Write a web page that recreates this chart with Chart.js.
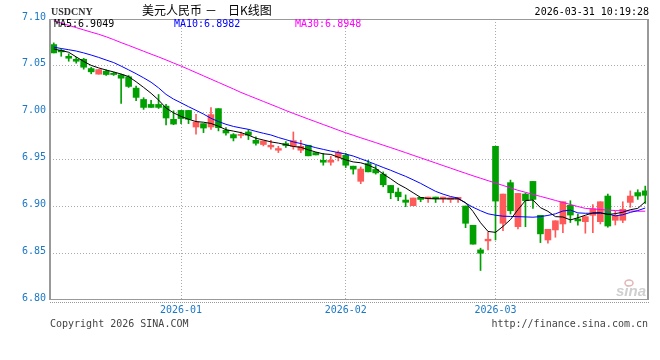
<!DOCTYPE html>
<html>
<head>
<meta charset="utf-8">
<script src="https://cdn.jsdelivr.net/npm/chart.js@4/dist/chart.umd.min.js"></script>
<style>
html,body{margin:0;padding:0;background:#fff}
#wrap{width:660px;height:360px;position:relative}
</style>
</head>
<body>
<div id="wrap"><canvas id="c" width="660" height="360"></canvas></div>
<script>
// ---- data (USDCNY daily candles) ----
const opens = [
7.0727, 7.0666, 7.0602, 7.0570, 7.0570, 7.0471, 7.0411, 7.0443, 7.0421, 7.0404,
7.0383, 7.0262, 7.0141, 7.0088, 7.0088, 7.0070, 6.9929, 7.0024, 7.0024, 6.9847,
6.9883, 6.9847, 7.0043, 6.9812, 6.9766, 6.9757, 6.9794, 6.9705, 6.9660, 6.9634,
6.9599, 6.9670, 6.9641, 6.9599, 6.9652, 6.9574, 6.9492, 6.9471, 6.9521, 6.9545,
6.9429, 6.9267, 6.9457, 6.9394, 6.9344, 6.9223, 6.9152, 6.9067, 6.9007, 6.9096,
6.9080, 6.9099, 6.9080, 6.9074, 6.9077, 6.9003, 6.8798, 6.8535, 6.8631, 6.9641,
6.8819, 6.9253, 6.8783, 6.9131, 6.9266, 6.8904, 6.8641, 6.8748, 6.8812, 6.9011,
6.8865, 6.8836, 6.8904, 6.8836, 6.9110, 6.8851, 6.8851, 6.9042, 6.9147, 6.9165];
const highs = [
7.0745, 7.0680, 7.0628, 7.0591, 7.0580, 7.0485, 7.0460, 7.0457, 7.0432, 7.0411,
7.0397, 7.0283, 7.0160, 7.0131, 7.0194, 7.0088, 7.0020, 7.0024, 7.0024, 6.9982,
6.9883, 7.0053, 7.0043, 6.9840, 6.9777, 6.9794, 6.9820, 6.9741, 6.9698, 6.9705,
6.9641, 6.9691, 6.9794, 6.9705, 6.9652, 6.9574, 6.9566, 6.9534, 6.9592, 6.9566,
6.9429, 6.9420, 6.9492, 6.9436, 6.9368, 6.9223, 6.9195, 6.9122, 6.9089, 6.9096,
6.9099, 6.9099, 6.9099, 6.9092, 6.9096, 6.9003, 6.8798, 6.8553, 6.8727, 6.9641,
6.9131, 6.9280, 6.9138, 6.9142, 6.9266, 6.8904, 6.8755, 6.8846, 6.9049, 6.9060,
6.8918, 6.8890, 6.9018, 6.9049, 6.9131, 6.8947, 6.9049, 6.9165, 6.9177, 6.9216];
const lows = [
7.0638, 7.0602, 7.0549, 7.0528, 7.0464, 7.0415, 7.0411, 7.0397, 7.0397, 7.0099,
7.0269, 7.0127, 7.0035, 7.0056, 7.0045, 6.9869, 6.9872, 6.9883, 6.9883, 6.9770,
6.9787, 6.9820, 6.9805, 6.9759, 6.9698, 6.9730, 6.9713, 6.9652, 6.9645, 6.9610,
6.9574, 6.9628, 6.9610, 6.9574, 6.9539, 6.9549, 6.9439, 6.9439, 6.9485, 6.9414,
6.9344, 6.9242, 6.9368, 6.9344, 6.9209, 6.9081, 6.9061, 6.8996, 6.9007, 6.9049,
6.9041, 6.9041, 6.9041, 6.9041, 6.9041, 6.8772, 6.8596, 6.8315, 6.8535, 6.8641,
6.8740, 6.8918, 6.8760, 6.8783, 6.8979, 6.8613, 6.8606, 6.8670, 6.8719, 6.8827,
6.8798, 6.8713, 6.8719, 6.8812, 6.8777, 6.8801, 6.8826, 6.8989, 6.9074, 6.9030];
const closes = [
7.0638, 7.0649, 7.0581, 7.0549, 7.0485, 7.0436, 7.0460, 7.0407, 7.0407, 7.0368,
7.0280, 7.0163, 7.0056, 7.0056, 7.0056, 6.9943, 6.9878, 6.9937, 6.9929, 6.9900,
6.9836, 6.9979, 6.9840, 6.9783, 6.9730, 6.9764, 6.9759, 6.9673, 6.9698, 6.9652,
6.9617, 6.9649, 6.9701, 6.9641, 6.9539, 6.9549, 6.9471, 6.9492, 6.9574, 6.9439,
6.9397, 6.9398, 6.9368, 6.9357, 6.9230, 6.9145, 6.9102, 6.9043, 6.9089, 6.9074,
6.9099, 6.9080, 6.9099, 6.9092, 6.9096, 6.8819, 6.8596, 6.8500, 6.8649, 6.9056,
6.9131, 6.8953, 6.9138, 6.9060, 6.9074, 6.8706, 6.8755, 6.8846, 6.9049, 6.8907,
6.8844, 6.8890, 6.8975, 6.9049, 6.8790, 6.8904, 6.8968, 6.9110, 6.9110, 6.9118];
const ma5 = [
7.0680, 7.0663, 7.0645, 7.0595, 7.0547, 7.0505, 7.0478, 7.0455, 7.0435, 7.0412,
7.0385, 7.0330, 7.0270, 7.0207, 7.0135, 7.0050, 6.9998, 6.9960, 6.9930, 6.9905,
6.9898, 6.9885, 6.9855, 6.9818, 6.9803, 6.9787, 6.9760, 6.9727, 6.9708, 6.9688,
6.9675, 6.9658, 6.9639, 6.9630, 6.9603, 6.9580, 6.9560, 6.9554, 6.9525, 6.9496,
6.9474, 6.9465, 6.9440, 6.9405, 6.9345, 6.9294, 6.9238, 6.9195, 6.9145, 6.9095,
6.9083, 6.9080, 6.9080, 6.9080, 6.9080, 6.9040, 6.8945, 6.8825, 6.8732, 6.8722,
6.8786, 6.8858, 6.8965, 6.9062, 6.9068, 6.8986, 6.8947, 6.8890, 6.8886, 6.8855,
6.8878, 6.8905, 6.8930, 6.8933, 6.8912, 6.8922, 6.8937, 6.8964, 6.8978, 6.9049];
const ma10 = [
7.0700, 7.0685, 7.0672, 7.0658, 7.0638, 7.0615, 7.0590, 7.0562, 7.0535, 7.0497,
7.0457, 7.0416, 7.0372, 7.0325, 7.0265, 7.0195, 7.0145, 7.0105, 7.0064, 7.0025,
6.9985, 6.9940, 6.9905, 6.9876, 6.9853, 6.9837, 6.9822, 6.9800, 6.9780, 6.9762,
6.9735, 6.9712, 6.9688, 6.9670, 6.9648, 6.9626, 6.9608, 6.9590, 6.9574, 6.9558,
6.9537, 6.9508, 6.9478, 6.9447, 6.9415, 6.9385, 6.9352, 6.9320, 6.9283, 6.9245,
6.9202, 6.9160, 6.9130, 6.9105, 6.9088, 6.9035, 6.8990, 6.8953, 6.8920, 6.8905,
6.8895, 6.8892, 6.8890, 6.8887, 6.8884, 6.8890, 6.8903, 6.8920, 6.8950, 6.8960,
6.8930, 6.8926, 6.8926, 6.8926, 6.8920, 6.8898, 6.8910, 6.8935, 6.8955, 6.8982];
const ma30 = [
7.0980, 7.0956, 7.0932, 7.0908, 7.0884, 7.0860, 7.0837, 7.0810, 7.0780, 7.0748,
7.0718, 7.0687, 7.0656, 7.0625, 7.0595, 7.0563, 7.0530, 7.0498, 7.0463, 7.0428,
7.0393, 7.0358, 7.0323, 7.0288, 7.0253, 7.0216, 7.0184, 7.0152, 7.0120, 7.0088,
7.0056, 7.0023, 6.9992, 6.9962, 6.9932, 6.9903, 6.9873, 6.9844, 6.9814, 6.9785,
6.9759, 6.9732, 6.9706, 6.9680, 6.9653, 6.9627, 6.9600, 6.9573, 6.9545, 6.9518,
6.9490, 6.9463, 6.9435, 6.9408, 6.9380, 6.9353, 6.9326, 6.9300, 6.9274, 6.9249,
6.9223, 6.9197, 6.9171, 6.9150, 6.9128, 6.9106, 6.9085, 6.9063, 6.9041, 6.9020,
6.8998, 6.8978, 6.8972, 6.8966, 6.8960, 6.8955, 6.8953, 6.8950, 6.8948, 6.8948];
const categories = closes.map((_, i) => i);            // one slot per trading day
const monthTicks = {17: '2026-01', 39: '2026-02', 59: '2026-03'};
const yTicks = [6.80, 6.85, 6.90, 6.95, 7.00, 7.05, 7.10];
const maLabels = ['MA5:6.9049', 'MA10:6.8982', 'MA30:6.8948'];
const titleText = ['美元人民币', '－', '日K线图'];
const symbolText = 'USDCNY';
const stampText = '2026-03-31 10:19:28';
const footLeft = 'Copyright 2026 SINA.COM';
const footRight = 'http://finance.sina.com.cn';

const UP = '#ff5a5a', DOWN = '#00a000';
const candleColor = ctx => closes[ctx.dataIndex] >= opens[ctx.dataIndex] ? UP : DOWN;
const wicks = lows.map((l, i) => [l, highs[i]]);
const bodies = opens.map((o, i) => [Math.min(o, closes[i]), Math.max(o, closes[i])]);
const BLUE_TXT = '#1b78c6';
const MONO = '10px "DejaVu Sans Mono", monospace';

const decor = {
  id: 'decor',
  afterDatasetsDraw(chart) {
    const {ctx, chartArea: a} = chart;
    const L = Math.round(a.left), R = Math.round(a.right), T = Math.round(a.top), B = Math.round(a.bottom);
    ctx.save();
    ctx.strokeStyle = '#999';
    ctx.lineWidth = 1;
    ctx.beginPath();
    ctx.moveTo(L, T + 0.5); ctx.lineTo(R, T + 0.5);
    ctx.moveTo(L, B - 0.5); ctx.lineTo(R, B - 0.5);
    ctx.stroke();
    ctx.lineWidth = 2;
    ctx.beginPath();
    ctx.moveTo(L, T); ctx.lineTo(L, B);
    ctx.moveTo(R - 1, T); ctx.lineTo(R - 1, B);
    ctx.stroke();
    ctx.lineWidth = 1;
    ctx.setLineDash([1, 1]);
    ctx.beginPath();
    ctx.moveTo(L, B + 2.5); ctx.lineTo(R, B + 2.5);
    ctx.stroke();
    ctx.setLineDash([]);
    // MA legend inside plot
    ctx.font = MONO;
    ctx.textBaseline = 'middle';
    ctx.textAlign = 'left';
    const maCols = ['#000000', '#0000ff', '#ff00ff'];
    const maX = [L + 4, L + 124, L + 245];
    maLabels.forEach((t, i) => { ctx.fillStyle = maCols[i]; ctx.fillText(t, maX[i], T + 5); });
    // watermark
    ctx.fillStyle = '#cfcfcf';
    ctx.font = 'italic bold 15px "Liberation Sans", sans-serif';
    ctx.textAlign = 'right';
    ctx.fillText('sina', R - 3, B - 8);
    ctx.strokeStyle = '#e3b5b5';
    ctx.lineWidth = 1.5;
    ctx.beginPath();
    ctx.ellipse(R - 20, B - 17, 4, 3, 0, 0, Math.PI * 2);
    ctx.stroke();
    ctx.restore();
  },
  afterDraw(chart) {
    const {ctx, chartArea: a} = chart;
    const L = Math.round(a.left), R = Math.round(a.right), B = Math.round(a.bottom);
    ctx.save();
    ctx.textBaseline = 'middle';
    ctx.fillStyle = '#333';
    ctx.font = 'bold 10px "Liberation Serif", serif';
    ctx.textAlign = 'left';
    ctx.fillText(symbolText, L + 1, 12);
    ctx.fillStyle = '#000';
    ctx.font = '12px "Noto Sans CJK SC", sans-serif';
    ctx.fillText(titleText[0], 142, 10);
    ctx.fillText(titleText[1], 205, 10);
    ctx.fillText(titleText[2], 228, 10);
    ctx.font = MONO;
    ctx.textAlign = 'right';
    ctx.fillText(stampText, R, 12);
    ctx.fillStyle = '#444';
    ctx.textAlign = 'left';
    ctx.fillText(footLeft, L, B + 24);
    ctx.textAlign = 'right';
    ctx.fillText(footRight, R - 1, B + 24);
    ctx.restore();
  }
};

new Chart(document.getElementById('c'), {
  type: 'bar',
  data: {
    labels: categories,
    datasets: [
      {type: 'line', label: 'MA5', data: ma5, borderColor: '#000', borderWidth: 1, pointRadius: 0, tension: 0, order: 0},
      {type: 'line', label: 'MA10', data: ma10, borderColor: '#0000ff', borderWidth: 1, pointRadius: 0, tension: 0, order: 0},
      {type: 'line', label: 'MA30', data: ma30, borderColor: '#ff00ff', borderWidth: 1, pointRadius: 0, tension: 0, order: 0},
      {label: 'wick', data: wicks, backgroundColor: candleColor, barThickness: 1, grouped: false, borderWidth: 0, order: 2},
      {label: 'body', data: bodies, backgroundColor: candleColor, barThickness: 6, grouped: false, borderWidth: 0, minBarLength: 1, order: 1}
    ]
  },
  options: {
    responsive: false,
    devicePixelRatio: 1,
    animation: false,
    events: [],
    layout: {padding: {left: 0, right: 11, top: 19, bottom: 40}},
    plugins: {legend: {display: false}, tooltip: {enabled: false}},
    scales: {
      x: {
        type: 'category',
        offset: true,
        grid: {
          offset: false,
          drawTicks: false,
          color: ctx => (ctx.index in monthTicks) ? '#aaaaaa' : 'rgba(0,0,0,0)'
        },
        border: {display: false, dash: [1, 2]},
        ticks: {
          autoSkip: false, maxRotation: 0, padding: 4,
          color: BLUE_TXT, font: {family: '"DejaVu Sans Mono", monospace', size: 10},
          callback: (v, i) => monthTicks[i] || ''
        },
        afterFit: s => { s.height = 20; }
      },
      y: {
        type: 'linear',
        min: 6.80, max: 7.10,
        afterBuildTicks: s => { s.ticks = yTicks.map(v => ({value: v})); },
        grid: {
          drawTicks: false,
          color: ctx => (ctx.tick && (ctx.tick.value < 6.801 || ctx.tick.value > 7.099)) ? 'rgba(0,0,0,0)' : '#aaaaaa'
        },
        border: {display: false, dash: [1, 2]},
        ticks: {
          padding: 4, labelOffset: -2,
          color: BLUE_TXT, font: {family: '"DejaVu Sans Mono", monospace', size: 10},
          callback: v => Number(v).toFixed(2)
        },
        afterFit: s => { s.width = 50; }
      }
    }
  },
  plugins: [decor]
});
</script>
</body>
</html>
